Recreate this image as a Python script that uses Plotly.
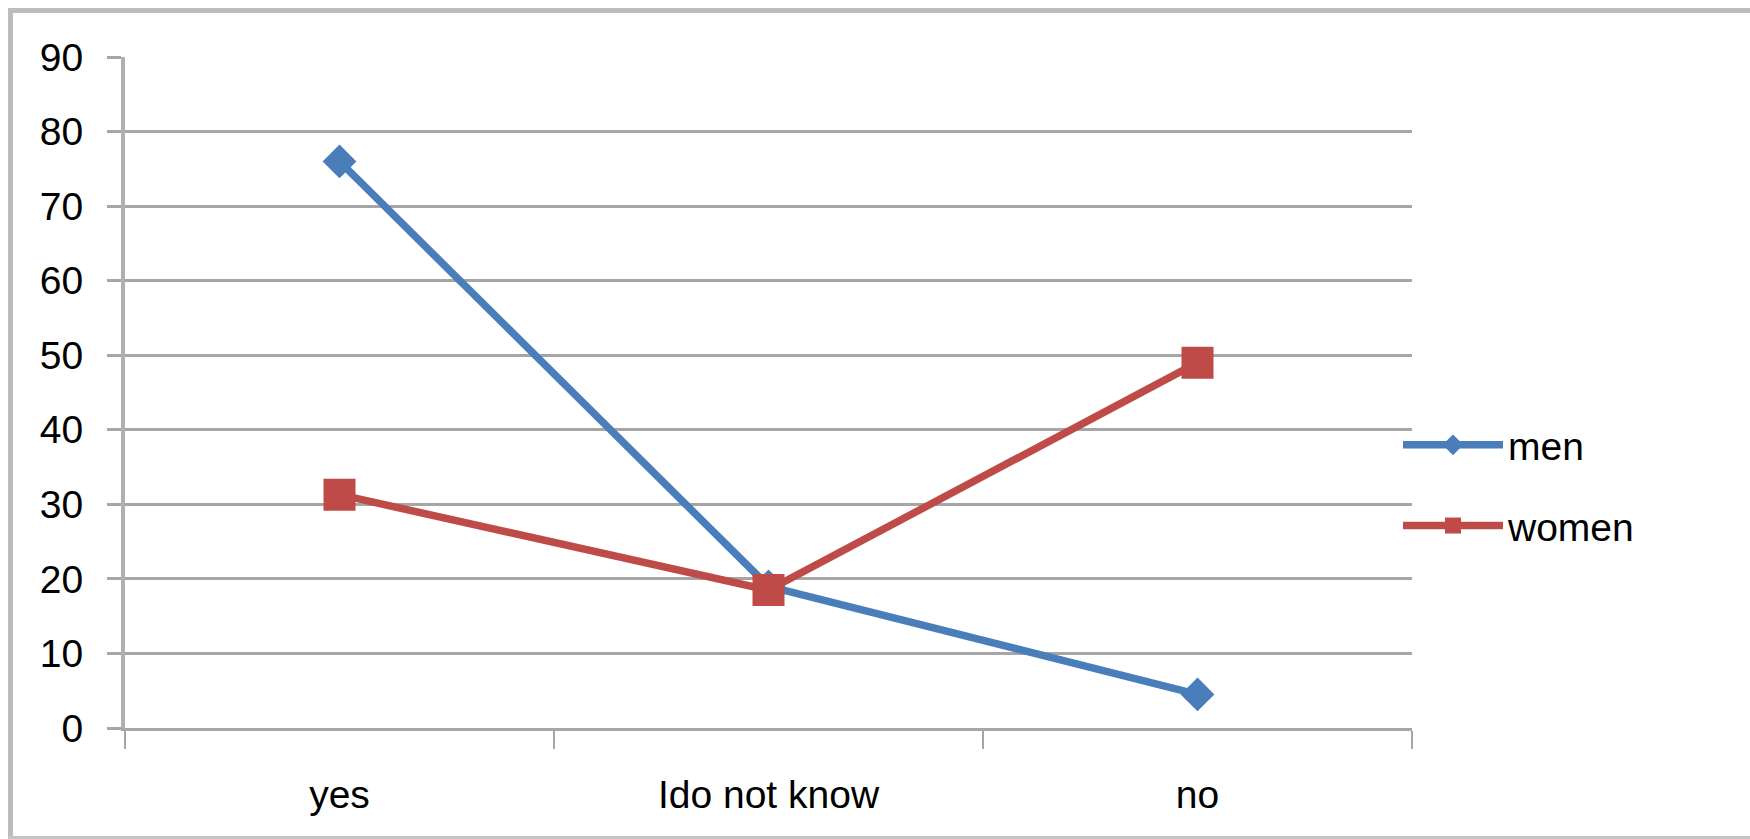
import plotly.graph_objects as go

categories = ["yes", "Ido not know", "no"]
men = [76, 19, 4.5]
women = [31.3, 18.5, 49.0]
y_ticks = [0, 10, 20, 30, 40, 50, 60, 70, 80, 90]

W, H = 1750, 839
L, R, T, B = 125, 1412, 57, 728

FONT = "Liberation Sans, Arial, sans-serif"
FS = 39

fig = go.Figure()
fig.add_trace(go.Scatter(
    x=categories, y=men, name="men", mode="lines+markers", legendgroup="men",
    line=dict(color="#4a7ebb", width=7.5),
    marker=dict(symbol="diamond", size=26, color="#4a7ebb"),
))
fig.add_trace(go.Scatter(
    x=categories, y=women, name="women", mode="lines+markers", legendgroup="women",
    line=dict(color="#be4b48", width=7.5),
    marker=dict(symbol="square", size=32, color="#be4b48"),
))

pw, ph = R - L, B - T
def px_x(p):
    return (p - L) / pw
def px_y(p):
    return (B - p) / ph

# outer chart frame: left, top and bottom edges (right edge lies off the image)
frame = dict(color="#bcbcbc", width=5)
fig.add_shape(type="line", xref="paper", yref="paper", layer="below",
              x0=px_x(10.5), x1=px_x(10.5), y0=px_y(838), y1=px_y(8), line=frame)
fig.add_shape(type="line", xref="paper", yref="paper", layer="below",
              x0=px_x(8), x1=px_x(1760), y0=px_y(10.5), y1=px_y(10.5), line=frame)
fig.add_shape(type="line", xref="paper", yref="paper", layer="below",
              x0=px_x(8), x1=px_x(1760), y0=px_y(837.5), y1=px_y(837.5),
              line=dict(color="#c4c4c4", width=3))

fig.update_layout(
    width=W, height=H,
    margin=dict(l=L, r=W - R, t=T, b=H - B),
    plot_bgcolor="white", paper_bgcolor="white",
    font=dict(family=FONT, size=FS, color="black"),
    showlegend=True,
    legend=dict(
        x=px_x(1398), y=px_y(413), xanchor="left", yanchor="top",
        font=dict(size=FS, family=FONT, color="black"),
        bgcolor="rgba(0,0,0,0)", itemwidth=100, tracegroupgap=27,
    ),
    xaxis=dict(
        type="category", range=[-0.5, 2.5],
        showgrid=False, showline=True, linecolor="#a6a6a6", linewidth=3,
        ticks="outside", tickson="boundaries", ticklen=18,
        tickcolor="#a6a6a6", tickwidth=2,
        ticklabelstandoff=30,
        tickfont=dict(size=FS, family=FONT),
        zeroline=False, fixedrange=True,
    ),
    yaxis=dict(
        range=[0, 90], tickvals=y_ticks, ticktext=[str(v) for v in y_ticks],
        showgrid=True, gridcolor="#a6a6a6", gridwidth=3,
        showline=True, linecolor="#b0b0b0", linewidth=4,
        ticks="outside", ticklen=14, tickcolor="#a6a6a6", tickwidth=3,
        ticklabelstandoff=16,
        tickfont=dict(size=FS, family=FONT),
        zeroline=False, fixedrange=True,
    ),
)

fig.write_html(
    "out.html", config={"displayModeBar": False},
    post_script=("document.body.style.margin='0';"
                 "document.body.style.overflow='hidden';"
                 "document.documentElement.style.overflow='hidden';"),
)
